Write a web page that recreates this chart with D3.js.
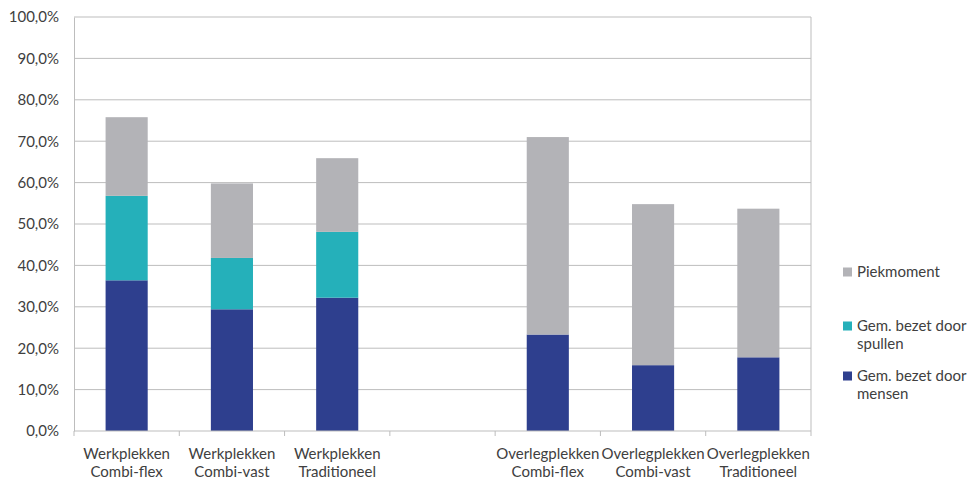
<!DOCTYPE html>
<html>
<head>
<meta charset="utf-8">
<script src="https://cdn.jsdelivr.net/npm/d3@7"></script>
<style>
  html, body { margin: 0; padding: 0; background: #ffffff; }
  svg text { font-family: Lato, "Open Sans", sans-serif; fill: #404040; }
</style>
</head>
<body>
<svg id="chart" width="972" height="483"></svg>
<script>
// Categories (an empty slot separates the two groups)
const categories = [
  ["Werkplekken", "Combi-flex"],
  ["Werkplekken", "Combi-vast"],
  ["Werkplekken", "Traditioneel"],
  ["", ""],
  ["Overlegplekken", "Combi-flex"],
  ["Overlegplekken", "Combi-vast"],
  ["Overlegplekken", "Traditioneel"]
];

// Segment sizes in percent
const mensen   = [36.4, 29.4, 32.2, 0, 23.3, 15.9, 17.8];
const spullen  = [20.4, 12.4, 15.9, 0, 0, 0, 0];
const piek     = [19.0, 18.0, 17.8, 0, 47.7, 38.9, 35.9];

const seriesNames  = ["Gem. bezet door mensen", "Gem. bezet door spullen", "Piekmoment"];
const seriesColors = ["#2e3f8e", "#25b0ba", "#b3b3b7"];
const yTicks = [0, 10, 20, 30, 40, 50, 60, 70, 80, 90, 100];

const svg = d3.select("#chart");
const plotLeft = 74, plotRight = 811, plotTop = 17, plotBottom = 431;
const fontSize = "15px";

const x = d3.scaleBand().domain(d3.range(categories.length)).range([plotLeft, plotRight]).paddingInner(0).paddingOuter(0);
const y = d3.scaleLinear().domain([0, 100]).range([plotBottom, plotTop]);

// Gridlines
svg.append("g").selectAll("line").data(yTicks.filter(d => d > 0)).join("line")
  .attr("x1", plotLeft).attr("x2", plotRight)
  .attr("y1", d => y(d)).attr("y2", d => y(d))
  .attr("stroke", "#bdbdbd").attr("stroke-width", 1);

// Right border of the plot area
svg.append("line").attr("x1", plotRight).attr("x2", plotRight).attr("y1", plotTop).attr("y2", plotBottom)
  .attr("stroke", "#bdbdbd");

// Stacked bars
const rows = categories.map((c, i) => ({ i, mensen: mensen[i], spullen: spullen[i], piek: piek[i] }));
const stack = d3.stack().keys(["mensen", "spullen", "piek"]);
const layers = stack(rows);
const barW = x.bandwidth() * 0.4;

svg.append("g").selectAll("g").data(layers).join("g")
  .attr("fill", (d, k) => seriesColors[k])
  .selectAll("rect").data(d => d.filter(p => p[1] - p[0] > 0)).join("rect")
  .attr("x", d => x(d.data.i) + (x.bandwidth() - barW) / 2)
  .attr("width", barW)
  .attr("y", d => y(d[1]))
  .attr("height", d => y(d[0]) - y(d[1]));

// Y axis
const yAxis = d3.axisLeft(y).tickValues(yTicks).tickSize(0).tickPadding(15)
  .tickFormat(d => d.toFixed(1).replace(".", ",") + "%");
const gy = svg.append("g").attr("transform", `translate(${plotLeft},0)`).call(yAxis);
gy.select(".domain").attr("stroke", "#bdbdbd");
gy.selectAll("text").style("font-size", fontSize).attr("fill", "#404040");

// X axis line and tick marks at category boundaries
svg.append("line").attr("x1", plotLeft).attr("x2", plotRight).attr("y1", plotBottom).attr("y2", plotBottom)
  .attr("stroke", "#bdbdbd");
const bounds = d3.range(categories.length + 1).map(i => plotLeft + i * x.step());
svg.append("g").selectAll("line").data(bounds).join("line")
  .attr("x1", d => d).attr("x2", d => d)
  .attr("y1", plotBottom).attr("y2", plotBottom + 5)
  .attr("stroke", "#bdbdbd");

// Category labels
const xl = svg.append("g").selectAll("text").data(categories).join("text")
  .attr("x", (d, i) => x(i) + x.bandwidth() / 2)
  .attr("text-anchor", "middle")
  .style("font-size", fontSize);
xl.append("tspan").attr("x", (d, i) => x(i) + x.bandwidth() / 2).attr("y", 459).text(d => d[0]);
xl.append("tspan").attr("x", (d, i) => x(i) + x.bandwidth() / 2).attr("y", 477).text(d => d[1]);

// Legend
const legend = [
  { k: 2, lines: ["Piekmoment"], y: 272 },
  { k: 1, lines: ["Gem. bezet door", "spullen"], y: 326 },
  { k: 0, lines: ["Gem. bezet door", "mensen"], y: 376 }
];
const lg = svg.append("g").selectAll("g").data(legend).join("g");
lg.append("rect").attr("x", 843).attr("y", d => d.y - 4.5).attr("width", 9).attr("height", 9)
  .attr("fill", d => seriesColors[d.k]);
lg.append("text").style("font-size", fontSize)
  .selectAll("tspan").data(d => d.lines.map((t, j) => ({ t, yy: d.y + 5 + j * 18 }))).join("tspan")
  .attr("x", 857).attr("y", d => d.yy).text(d => d.t);
</script>
</body>
</html>
